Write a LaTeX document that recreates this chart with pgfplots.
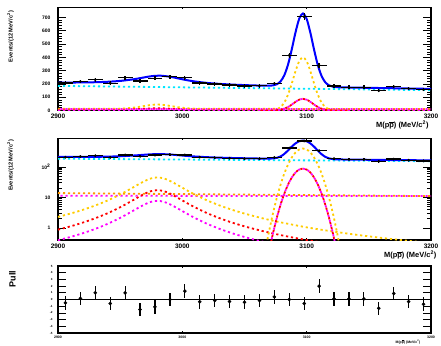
\documentclass[border=0pt]{standalone}
\usepackage{fontspec}
\setmainfont{Liberation Sans}
\usepackage{pgfplots}
\usepackage{pgfplotstable}
\pgfplotsset{compat=1.18}
\definecolor{rblue}{RGB}{0,0,255}
\definecolor{rcyan}{RGB}{0,230,255}
\definecolor{ryellow}{RGB}{255,204,0}
\definecolor{rorange}{RGB}{255,150,0}
\definecolor{rred}{RGB}{255,0,0}
\definecolor{rmag}{RGB}{255,0,255}
\newcommand{\mlabel}{M(p$\overline{\mbox{p}}$) (MeV/c\textsuperscript{2})}

\pgfplotstableread{
x y ex ey
2906 207 6 14.4
2918 218 6 14.8
2930 232 6 15.2
2942 205 6 14.3
2954 246 6 15.7
2966 222 6 14.9
2978 242 6 15.6
2990 254 6 15.9
3002 246 6 15.7
3014 207 6 14.4
3026 200 6 14.1
3038 192 6 13.9
3050 185 6 13.6
3062 186 6 13.6
3074 203 6 14.2
3086 415 6 20.4
3098 705 6 26.6
3110 340 6 18.4
3122 185 6 13.6
3134 175 6 13.2
3146 175 6 13.2
3158 150 6 12.2
3170 180 6 13.4
3182 165 6 12.8
3194 157 6 12.5
}\datatab

\pgfplotstableread{
x y ey
2906 -0.5 1
2918 0.15 1
2930 1.0 1
2942 -0.6 1
2954 1.0 1
2966 -1.5 1
2978 -1.1 1
2990 0.0 1
3002 1.25 1
3014 -0.35 1
3026 -0.15 1
3038 -0.3 1
3050 -0.4 1
3062 -0.15 1
3074 0.4 1
3086 0.0 1
3098 -0.6 1
3110 2.0 1
3122 0.1 1
3134 0.1 1
3146 0.1 1
3158 -1.3 1
3170 0.9 1
3182 -0.3 1
3194 -0.7 1
}\pulltab

\pgfplotstableread{
x Y R M
2900 2.29 0.874 0.391
2910 2.94 1.12 0.503
2920 3.91 1.49 0.668
2930 5.42 2.07 0.927
2940 7.93 3.03 1.357
2950 12.40 4.74 2.12
2960 20.7 7.93 3.55
2965 27.1 10.37 4.64
2970 34.8 13.31 5.96
2975 41.9 16.03 7.18
2980 45 17.2 7.7
2985 41.9 16.03 7.18
2990 34.8 13.31 5.96
2995 27.1 10.37 4.64
3000 20.7 7.93 3.55
3005 15.9 6.09 2.73
3010 12.40 4.74 2.12
3020 7.93 3.03 1.357
3030 5.42 2.07 0.927
3040 3.91 1.49 0.668
3050 2.94 1.12 0.503
3060 2.29 0.874 0.391
3070 1.82 0.697 0.312
3080 1.49 0.569 0.255
3090 1.24 0.473 0.212
3100 1.04 0.399 0.179
3110 0.891 0.341 0.152
3120 0.774 0.296 0.132
3130 0.675 0.258 0.116
3140 0.594 0.227 0.102
3150 0.527 0.201 0.090
3160 0.470 0.180 0.080
3170 0.423 0.162 0.072
3180 0.382 0.146 0.065
3190 0.347 0.132 0.059
3200 0.316 0.121 0.054
}\etab

\pgfplotstableread{
x Y R
3061 0.007 0.0016
3064 0.041 0.0091
3067 0.202 0.0445
3070 0.856 0.188
3073 3.11 0.684
3076 9.72 2.14
3079 26.0 5.73
3082 60.0 13.2
3085 118.8 26.1
3088 202 44.4
3091 295.2 64.9
3094 370.8 81.6
3097 400 88
3100 370.8 81.6
3103 295.2 64.9
3106 202 44.4
3109 118.8 26.1
3112 60.0 13.2
3115 26.0 5.73
3118 9.72 2.14
3121 3.11 0.684
3124 0.856 0.188
3127 0.202 0.0445
3130 0.041 0.0091
3133 0.007 0.0016
}\jtab

\pgfplotstableread{
x y
2900 210.5
2910 210.5
2920 211.1
2930 212.8
2940 216.3
2950 222.6
2960 233.9
2965 241.6
2970 250.2
2975 257.9
2982 262.2
2990 254.2
2995 244.8
3000 234.9
3005 226.0
3010 218.5
3020 207.5
3030 200.2
3040 195.1
3050 191.1
3061 187.7
3064 187.0
3067 186.4
3070 186.6
3073 189.0
3076 197.4
3079 219.1
3082 265.2
3085 345.4
3088 459.2
3091 586.7
3094 690.1
3097 729.7
3100 688.9
3103 584.4
3106 455.8
3109 340.9
3112 259.4
3115 212.2
3118 189.3
3121 179.6
3124 176.0
3127 174.6
3130 174.0
3133 173.3
3140 172.2
3150 170.6
3160 168.9
3170 167.4
3180 165.9
3190 164.3
3200 162.8
}\btab

\pgfplotsset{
 rootax/.style={
  scale only axis, width=373bp, xmin=2900, xmax=3200,
  axis line style={line width=1.3bp},
  xtick={2900,3000,3100,3200}, minor x tick num=4,
  /pgf/number format/assume math mode=true,
  /pgf/number format/1000 sep={},
  tick style={black, line width=0.7bp},
  major tick length=8bp, minor tick length=4bp,
  x tick style={/pgfplots/major tick length=2bp, /pgfplots/minor tick length=1bp},
  xticklabel style={font=\fontsize{6.5}{6.5}\selectfont\bfseries},
  yticklabel style={font=\fontsize{5}{5}\selectfont\bfseries, xshift=-4bp},
  ylabel style={font=\fontsize{5.7}{5.7}\selectfont\bfseries},
  xlabel style={font=\fontsize{7.5}{7.5}\selectfont\bfseries},
 },
 dotc/.style={line width=1.8bp, dash pattern=on 2.2bp off 2.8bp, no marks},
 datap/.style={only marks, mark=*, mark size=1.2bp, black, mark options={fill=black},
   error bars/.cd, x dir=both, x explicit, y dir=both, y explicit,
   error bar style={line width=1.3bp,black}, error mark=none},
 pullp/.style={only marks, mark=*, mark size=1.6bp, black, mark options={fill=black},
   error bars/.cd, y dir=both, y explicit,
   error bar style={line width=1.2bp,black}, error mark=none},
}

\newcommand{\components}{%
 \addplot[rcyan, dotc] coordinates {(2900,185) (3200,153)};
 \addplot[rorange, dotc] coordinates {(2900,13.8) (3200,11.0)};
 \addplot[rmag, dotc, dash phase=2.5bp] coordinates {(2900,11.3) (3200,11.0)};
 \addplot[ryellow, dotc, smooth] table[x=x,y=Y]{\etab};
 \addplot[rred, dotc, smooth] table[x=x,y=R]{\etab};
 \addplot[rmag, dotc, smooth] table[x=x,y=M]{\etab};
 \addplot[ryellow, dotc, smooth] table[x=x,y=Y]{\jtab};
 \addplot[rmag, dotc, smooth] table[x=x,y=R]{\jtab};
 \addplot[rred, dotc, smooth, dash phase=2.5bp] table[x=x,y=R]{\jtab};
 \addplot[rblue, line width=2bp, smooth] table[x=x,y=y]{\btab};
 \addplot[datap] table[x=x,y=y,x error=ex,y error=ey]{\datatab};
}

\begin{document}
\begin{tikzpicture}
\path[use as bounding box] (0bp,0bp) rectangle (441bp,346bp);
\begin{axis}[rootax, at={(58bp,338.5bp)}, anchor=north west, height=103bp,
  ymin=0, ymax=775, ytick={0,100,...,700}, minor y tick num=4,
  ylabel={Events/(12 MeV/c\textsuperscript{2})},
  ylabel style={at={(axis description cs:-0.127,0.718)}, anchor=center},
  xlabel={\mlabel},
  xlabel style={at={(axis description cs:1.0027,-0.141)}, anchor=east}]
\components
\end{axis}

\begin{axis}[rootax, at={(58bp,207.5bp)}, anchor=north west, height=101.5bp,
  ymode=log, ymin=0.4, ymax=850, ytick={1,10,100}, yticklabels={1,10,10\textsuperscript{2}},
  ylabel={Events/(12 MeV/c\textsuperscript{2})},
  ylabel style={at={(axis description cs:-0.127,0.734)}, anchor=center},
  xlabel={\mlabel},
  xlabel style={at={(axis description cs:1.024,-0.148)}, anchor=east}]
\components
\end{axis}

\begin{axis}[rootax, at={(58bp,80bp)}, anchor=north west, height=67bp,
  ymin=-5, ymax=5, ytick={-5,-4,...,5}, minor y tick num=0,
  xticklabel style={font=\fontsize{3.5}{3.5}\selectfont\bfseries},
  yticklabel style={font=\fontsize{3}{3}\selectfont\bfseries, xshift=2bp},
  ylabel={Pull},
  ylabel style={at={(axis description cs:-0.122,0.806)}, anchor=center, font=\fontsize{9}{9}\selectfont\bfseries},
  xlabel={\mlabel},
  xlabel style={at={(axis description cs:0.981,-0.134)}, anchor=east, font=\fontsize{3.5}{3.5}\selectfont\bfseries}]
\addplot[black, line width=1.3bp, no marks] coordinates {(2900,0) (3200,0)};
\addplot[pullp] table[x=x,y=y,y error=ey]{\pulltab};
\end{axis}
\end{tikzpicture}
\end{document}
